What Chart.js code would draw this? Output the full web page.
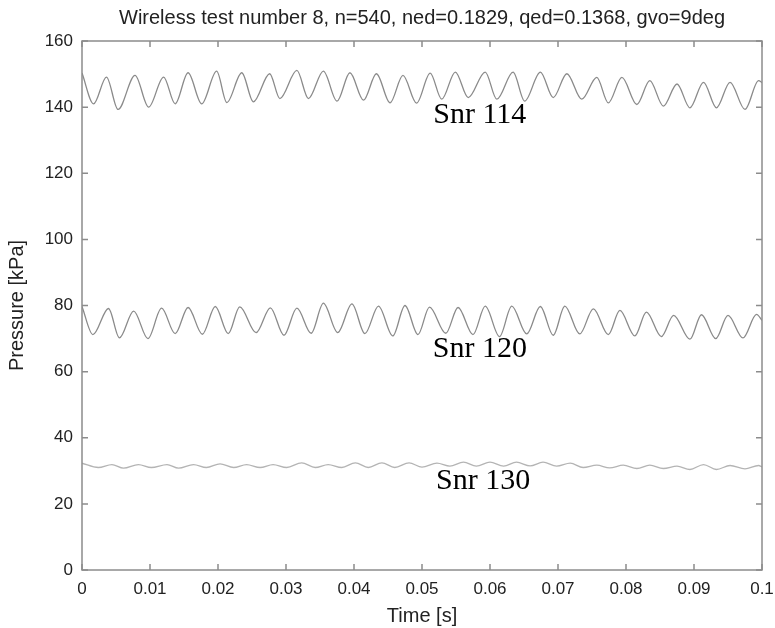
<!DOCTYPE html>
<html>
<head>
<meta charset="utf-8">
<script src="https://cdn.jsdelivr.net/npm/chart.js@4.4.1/dist/chart.umd.min.js"></script>
<style>
  html, body { margin: 0; padding: 0; background: #fff; }
  canvas { display: block; }
</style>
</head>
<body>
<canvas id="pressure" width="775" height="628"></canvas>
<script>
// pressure traces, one per sensor (time in s, pressure in kPa) - peaks/troughs of each cycle
const t114 = [0, .0017, .0036, .0053, .0078, .0098, .0120, .0137, .0156, .0176, .0198, .0213, .0235, .0252, .0276, .0291, .0316, .0333, .0355, .0375,
  .0394, .0414, .0433, .0453, .0472, .0492, .0512, .0529, .0549, .0568, .0593, .0610, .0634, .0651, .0674, .0693, .0713, .0735, .0757, .0774,
  .0794, .0816, .0835, .0855, .0875, .0894, .0914, .0933, .0953, .0975, .0995, .1]
const p114 = [150.3, 141.0, 149.1, 139.3, 149.6, 140.0, 149.1, 141.0, 150.4, 141.0, 150.9, 141.4, 150.4, 141.6, 150.1, 142.6, 151.1, 142.6, 150.9, 141.8,
  150.4, 142.1, 150.1, 141.3, 149.6, 141.2, 150.3, 142.4, 150.6, 142.9, 150.6, 142.4, 150.6, 141.8, 150.6, 142.9, 150.1, 142.4, 149.0, 141.3,
  149.0, 140.8, 148.0, 140.3, 147.0, 139.8, 147.5, 139.8, 147.5, 139.3, 148.0, 147.4]

const t120 = [0, .0016, .0039, .0055, .0076, .0097, .0117, .0137, .0156, .0177, .0196, .0215, .0232, .0256, .0277, .0297, .0316, .0337, .0355, .0376,
  .0397, .0416, .0436, .0457, .0475, .0494, .0511, .0535, .0553, .0575, .0593, .0614, .0632, .0654, .0674, .0693, .0710, .0732, .0752, .0774,
  .0791, .0813, .0830, .0852, .0870, .0894, .0911, .0932, .0950, .0972, .0992, .1]
const p120 = [79.7, 71.2, 79.1, 70.2, 78.3, 70.0, 79.2, 71.5, 79.4, 71.3, 79.7, 71.5, 79.6, 71.8, 79.3, 71.0, 79.2, 71.6, 80.7, 71.8,
  80.5, 71.5, 79.8, 70.8, 80.0, 71.2, 79.5, 71.6, 79.4, 71.2, 79.8, 70.6, 79.8, 71.4, 79.7, 71.0, 79.8, 71.4, 79.0, 71.2,
  78.5, 70.8, 78.0, 70.6, 77.0, 69.8, 77.2, 70.0, 77.0, 70.2, 77.3, 75.5]

const t130 = [0, .0024, .0044, .0061, .0083, .0102, .0125, .0142, .0164, .0183, .0203, .0223, .0242, .0262, .0281, .0301, .0323, .0343, .0362, .0382,
  .0402, .0421, .0441, .0460, .0481, .0500, .0522, .0541, .0561, .0580, .0600, .0620, .0639, .0659, .0678, .0698, .0718, .0737, .0757, .0776,
  .0796, .0816, .0835, .0855, .0875, .0894, .0914, .0933, .0953, .0975, .0995, .1]
const p130 = [32.3, 31.0, 31.9, 30.8, 31.9, 31.0, 31.9, 30.8, 31.9, 31.0, 32.1, 31.0, 31.9, 31.0, 31.9, 31.0, 32.4, 31.0, 31.9, 31.0,
  32.4, 31.0, 32.4, 31.0, 32.4, 31.1, 32.3, 31.4, 32.6, 31.4, 32.6, 31.4, 32.6, 31.5, 32.6, 31.4, 32.3, 31.0, 31.7, 30.9,
  31.7, 30.7, 31.7, 30.7, 31.4, 30.4, 31.9, 30.4, 31.6, 30.6, 31.6, 31.2]

// text labels placed in data coordinates
const labelText = ['Snr 114', 'Snr 120', 'Snr 130']
const labelT = [0.0585, 0.0585, 0.059]
const labelP = [137.6, 66.8, 26.9]

const axisColor = '#8c8c8c'
const textColor = '#222'

function pts(ts, ps){
  return ts.map((t, i) => ({x: t, y: ps[i]}))
}

function trace(ts, ps, color){
  return {
    data: pts(ts, ps),
    borderColor: color,
    borderWidth: 1.3,
    pointRadius: 0,
    fill: false,
    cubicInterpolationMode: 'monotone'
  }
}

// matlab-like box with ticks pointing inwards on all four sides
const boxTicks = {
  id: 'boxTicks',
  afterDatasetsDraw(chart){
    const {ctx, chartArea: a, scales: {x, y}} = chart
    const len = 6
    ctx.save()
    ctx.strokeStyle = axisColor
    ctx.lineWidth = 1.5
    ctx.strokeRect(a.left, a.top, a.right - a.left, a.bottom - a.top)
    ctx.beginPath()
    x.ticks.forEach(t => {
      const px = x.getPixelForValue(t.value)
      ctx.moveTo(px, a.bottom); ctx.lineTo(px, a.bottom - len)
      ctx.moveTo(px, a.top); ctx.lineTo(px, a.top + len)
    })
    y.ticks.forEach(t => {
      const py = y.getPixelForValue(t.value)
      ctx.moveTo(a.left, py); ctx.lineTo(a.left + len, py)
      ctx.moveTo(a.right, py); ctx.lineTo(a.right - len, py)
    })
    ctx.stroke()
    ctx.restore()
  }
}

const snrLabels = {
  id: 'snrLabels',
  afterDatasetsDraw(chart){
    const {ctx, scales: {x, y}} = chart
    ctx.save()
    ctx.font = '30px "Liberation Serif", "Times New Roman", serif'
    ctx.fillStyle = '#000'
    ctx.textAlign = 'center'
    ctx.textBaseline = 'middle'
    labelText.forEach((s, i) => {
      ctx.fillText(s, x.getPixelForValue(labelT[i]), y.getPixelForValue(labelP[i]))
    })
    ctx.restore()
  }
}

const sans = '"Liberation Sans", Arial, Helvetica, sans-serif'

const config = {
  type: 'line',
  data: {
    datasets: [
      trace(t114, p114, '#8a8a8a'),
      trace(t120, p120, '#8a8a8a'),
      trace(t130, p130, '#b4b4b4')
    ]
  },
  options: {
    responsive: false,
    animation: false,
    devicePixelRatio: 1,
    layout: { padding: { top: 0, right: 13, bottom: 0, left: 0 } },
    plugins: {
      legend: { display: false },
      tooltip: { enabled: false }
    },
    scales: {
      x: {
        type: 'linear',
        min: 0,
        max: 0.1,
        grid: { display: false, drawTicks: false },
        border: { display: false },
        ticks: {
          stepSize: 0.01,
          padding: 9,
          color: textColor,
          font: { family: sans, size: 17 },
          maxRotation: 0,
          callback: v => String(parseFloat(v.toFixed(2)))
        },
        title: {
          display: true,
          text: 'Time [s]',
          color: textColor,
          font: { family: sans, size: 20 },
          padding: { top: 0, bottom: 0 }
        },
        // fixed height, and let the end labels hang over the box edges
        afterFit(scale){
          scale.height = 58
          scale.paddingLeft = 0
          scale.paddingRight = 0
        }
      },
      // top axis only carries the plot title, so it is centred over the axes box
      xTop: {
        type: 'linear',
        position: 'top',
        min: 0,
        max: 0.1,
        grid: { display: false, drawTicks: false },
        border: { display: false },
        ticks: { display: false },
        title: {
          display: true,
          text: 'Wireless test number 8, n=540, ned=0.1829, qed=0.1368, gvo=9deg',
          color: textColor,
          font: { family: sans, size: 20 },
          padding: { top: 6, bottom: 0 }
        },
        afterFit(scale){
          scale.height = 41
          scale.paddingLeft = 0
          scale.paddingRight = 0
        }
      },
      y: {
        min: 0,
        max: 160,
        grid: { display: false, drawTicks: false },
        border: { display: false },
        ticks: {
          stepSize: 20,
          padding: 9,
          color: textColor,
          font: { family: sans, size: 17 }
        },
        title: {
          display: true,
          text: 'Pressure [kPa]',
          color: textColor,
          font: { family: sans, size: 20 },
          padding: { top: 5, bottom: 0 }
        },
        afterFit(scale){
          scale.width = 82
          scale.paddingTop = 0
          scale.paddingBottom = 0
        }
      }
    }
  },
  plugins: [boxTicks, snrLabels]
}

let ctx = document.getElementById('pressure').getContext('2d')
new Chart(ctx, config)
</script>
</body>
</html>
